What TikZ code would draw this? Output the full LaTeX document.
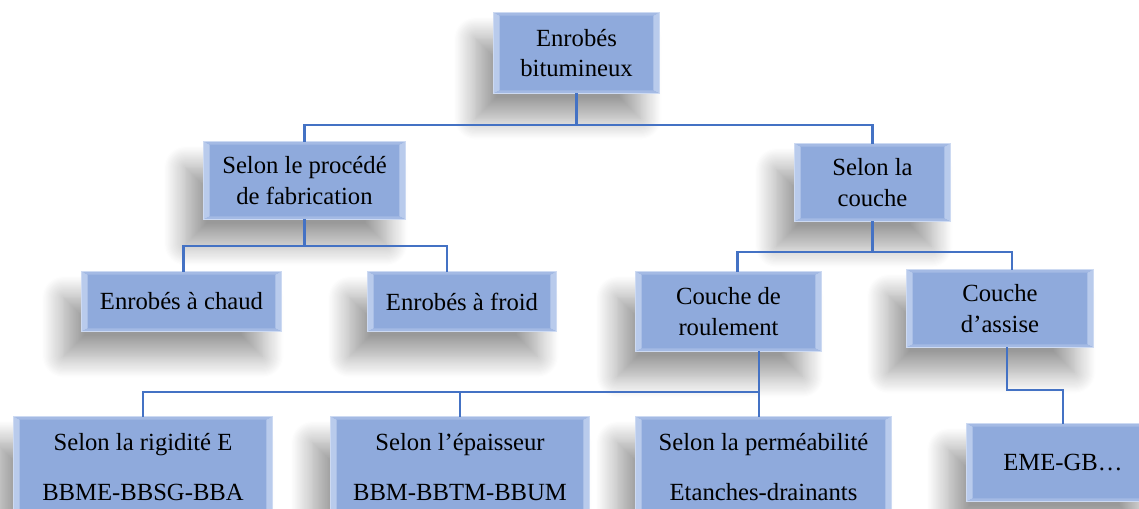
\documentclass[tikz,border=0pt]{standalone}
\usepackage{fontspec}
\setmainfont{Liberation Serif}
\usetikzlibrary{calc,shadows.blur}

\definecolor{boxfill}{RGB}{143,170,220}
\definecolor{boxedge}{RGB}{205,218,242}
\definecolor{bevellight}{RGB}{185,203,236}
\definecolor{linkblue}{RGB}{68,114,196}

\tikzset{every picture/.style={line width=0.75pt}}
\tikzset{
  bevelbox/.style={draw=boxedge, fill=boxfill, line width=0.6pt, inner sep=0pt,
    align=center, font=\fontsize{18.5}{23}\selectfont,
    blur shadow={shadow xshift=-14pt, shadow yshift=-19pt, shadow opacity=40,
      shadow blur steps=20, shadow blur radius=16pt}},
  link/.style={draw=linkblue, line width=1.8pt}
}
\newcommand{\bevel}[1]{%
  \fill[bevellight] (#1.north west) -- ($(#1.north west)+(6,3)$) -- ($(#1.south west)+(6,-3)$) -- (#1.south west) -- cycle;
  \fill[bevellight] (#1.north east) -- ($(#1.north east)+(-6,3)$) -- ($(#1.south east)+(-6,-3)$) -- (#1.south east) -- cycle;
  \fill[bevellight!50!boxfill] (#1.north west) -- ($(#1.north west)+(6,3)$) -- ($(#1.north east)+(-6,3)$) -- (#1.north east) -- cycle;
  \fill[bevellight!50!boxfill] (#1.south west) -- ($(#1.south west)+(6,-3)$) -- ($(#1.south east)+(-6,-3)$) -- (#1.south east) -- cycle;
  \draw[boxedge, line width=0.6pt] (#1.north west) rectangle (#1.south east);
}

\begin{document}
\begin{tikzpicture}[x=0.75pt,y=0.75pt,yscale=-1,xscale=1]
\clip (0,0) rectangle (1139,508);

%Boxes
\node[bevelbox, minimum width=123.75pt, minimum height=60pt] (root) at (576.5,53) {Enrobés\\bitumineux};
\node[bevelbox, minimum width=150.75pt, minimum height=57.75pt] (proc) at (304.5,180.5) {Selon le procédé\\de fabrication};
\node[bevelbox, minimum width=116.25pt, minimum height=57.75pt] (couche) at (872.5,182.5) {Selon la\\couche};
\node[bevelbox, minimum width=149.25pt, minimum height=44.25pt] (chaud) at (181.5,301.5) {Enrobés à chaud};
\node[bevelbox, minimum width=141pt, minimum height=44.25pt] (froid) at (462,301.5) {Enrobés à froid};
\node[bevelbox, minimum width=138.75pt, minimum height=59.25pt] (roul) at (728.5,311.5) {Couche de\\roulement};
\node[bevelbox, minimum width=139.5pt, minimum height=57.75pt] (assise) at (1000,308.5) {Couche\\d’assise};
\node[bevelbox, minimum width=193.5pt, minimum height=75pt] (rigid) at (143,467) {Selon la rigidité E\\[14pt]BBME-BBSG-BBA};
\node[bevelbox, minimum width=193.5pt, minimum height=75pt] (epais) at (460,467) {Selon l’épaisseur\\[14pt]BBM-BBTM-BBUM};
\node[bevelbox, minimum width=191.25pt, minimum height=75pt] (perm) at (763.5,467) {Selon la perméabilité\\[14pt]Etanches-drainants};
\node[bevelbox, minimum width=144pt, minimum height=57.75pt] (eme) at (1063,462.5) {EME-GB\ldots};

\foreach \n in {root,proc,couche,chaud,froid,roul,assise,rigid,epais,perm,eme}{\bevel{\n}}

%Bus points
\coordinate (bus1) at (576.5,125);
\coordinate (bus2) at (304.5,246);
\coordinate (bus3) at (872.5,252);
\coordinate (bus4) at (759,392);
\coordinate (bus5) at (1007,390);

%Connectors
\draw[link] (root.south) -- (bus1);
\draw[link] (proc.north) |- (bus1) -| (couche.north);
\draw[link] (proc.south) -- (bus2);
\draw[link] ($(chaud.north)+(2,0)$) |- (bus2) -| ($(froid.north)+(-15,0)$);
\draw[link] (couche.south) -- (bus3);
\draw[link] ($(roul.north)+(9,0)$) |- (bus3) -| ($(assise.north)+(12,0)$);
\draw[link] (roul.south -| bus4) -- (bus4);
\draw[link] (rigid.north) |- (bus4) -- (perm.north -| bus4);
\draw[link] (epais.north) -- (epais.north |- bus4);
\draw[link] (assise.south -| bus5) -- (bus5) -| (eme.north);

\end{tikzpicture}
\end{document}
